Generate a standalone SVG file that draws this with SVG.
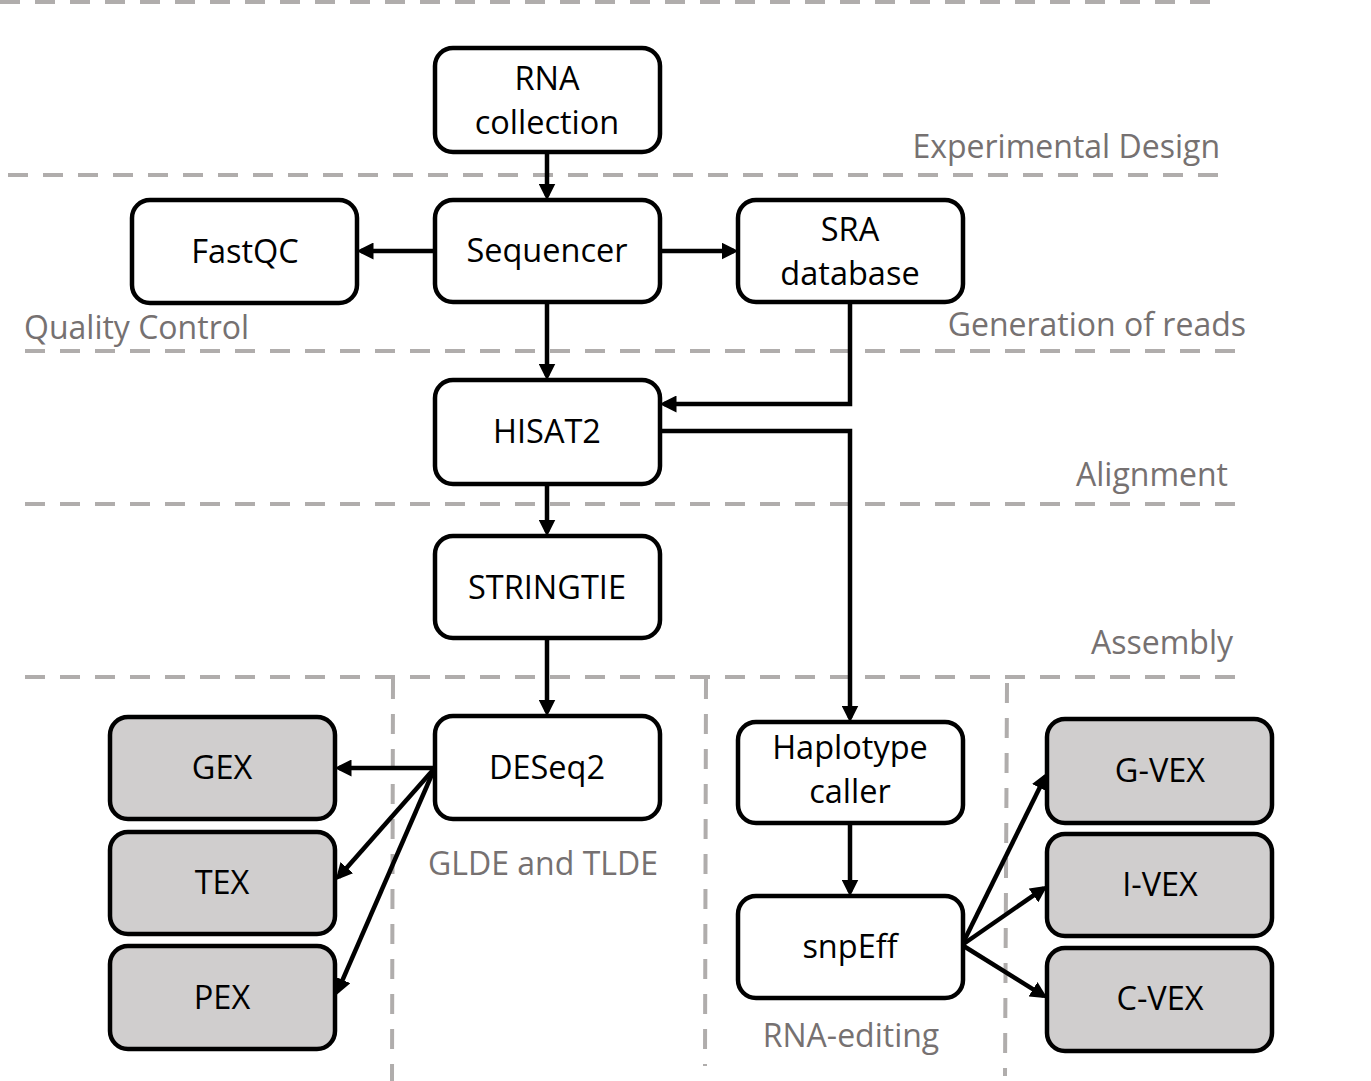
<svg xmlns="http://www.w3.org/2000/svg" width="1371" height="1081" viewBox="0 0 1371 1081">
<defs>
<style>
.bg{fill:#ffffff}
.dash{stroke:#b0adac;stroke-width:4;stroke-dasharray:20 15;fill:none}
.box{fill:#ffffff;stroke:#000;stroke-width:4.5}
.out{fill:#d0cece;stroke:#000;stroke-width:4.5}
.t{font-family:"Open Sans","Liberation Sans",sans-serif;font-size:32.5px;fill:#000;text-anchor:middle}
.lab{font-family:"Open Sans","Liberation Sans",sans-serif;font-size:32px;fill:#767171}
.c{stroke:#000;stroke-width:4.5;fill:none;marker-end:url(#ah)}
</style>
<marker id="ah" markerUnits="userSpaceOnUse" markerWidth="17" markerHeight="17" refX="12.5" refY="8.5" orient="auto" viewBox="0 0 17 17">
<path d="M0,0 L17,8.5 L0,17 z" fill="#000"/>
</marker>
</defs>
<rect class="bg" x="0" y="0" width="1371" height="1081"/>
<g id="guides">
<line class="dash" x1="0" y1="2" x2="1222" y2="2"/>
<line class="dash" x1="8" y1="175" x2="1222" y2="175"/>
<line class="dash" x1="25" y1="351" x2="1237" y2="351"/>
<line class="dash" x1="25" y1="504" x2="1237" y2="504"/>
<line class="dash" x1="25" y1="677" x2="1237" y2="677"/>
<line class="dash" x1="393" y1="679" x2="392" y2="1081"/>
<line class="dash" x1="706" y1="679" x2="705" y2="1066"/>
<line class="dash" x1="1007" y1="683" x2="1005" y2="1076"/>
</g>
<g id="labels">
<text class="lab" x="1220" y="158" text-anchor="end">Experimental Design</text>
<text class="lab" x="24" y="339">Quality Control</text>
<text class="lab" x="1246" y="336" text-anchor="end">Generation of reads</text>
<text class="lab" x="1228" y="486" text-anchor="end">Alignment</text>
<text class="lab" x="1233" y="654" text-anchor="end">Assembly</text>
<text class="lab" x="543" y="875" text-anchor="middle">GLDE and TLDE</text>
<text class="lab" x="851" y="1047" text-anchor="middle">RNA-editing</text>
</g>
<g id="connectors">
<line class="c" x1="547" y1="152" x2="547" y2="196"/>
<line class="c" x1="435" y1="251" x2="361" y2="251"/>
<line class="c" x1="660" y1="251" x2="734" y2="251"/>
<line class="c" x1="547" y1="302" x2="547" y2="376"/>
<polyline class="c" points="850,302 850,404 664,404"/>
<polyline class="c" points="660,431 850,431 850,718"/>
<line class="c" x1="547" y1="484" x2="547" y2="532"/>
<line class="c" x1="547" y1="638" x2="547" y2="712"/>
<line class="c" x1="435" y1="768" x2="339" y2="768"/>
<line class="c" x1="433" y1="770" x2="338.6" y2="877"/>
<line class="c" x1="433" y1="772" x2="337.6" y2="991.3"/>
<line class="c" x1="850" y1="823" x2="850" y2="892"/>
<line class="c" x1="962" y1="945" x2="1045.2" y2="776.6"/>
<line class="c" x1="962" y1="945" x2="1043.7" y2="888.3"/>
<line class="c" x1="962" y1="945" x2="1043.6" y2="995.9"/>
</g>
<g id="n-rna"><rect class="box" x="435" y="48" width="225" height="104" rx="18"/><text class="t" x="547" y="90">RNA</text><text class="t" x="547" y="134">collection</text></g>
<g id="n-sequencer"><rect class="box" x="435" y="200" width="225" height="102" rx="18"/><text class="t" x="547" y="262">Sequencer</text></g>
<g id="n-fastqc"><rect class="box" x="132" y="200" width="225" height="103" rx="18"/><text class="t" x="245" y="263">FastQC</text></g>
<g id="n-sra"><rect class="box" x="738" y="200" width="225" height="102" rx="18"/><text class="t" x="850" y="241">SRA</text><text class="t" x="850" y="285">database</text></g>
<g id="n-hisat2"><rect class="box" x="435" y="380" width="225" height="104" rx="18"/><text class="t" x="547" y="443">HISAT2</text></g>
<g id="n-stringtie"><rect class="box" x="435" y="536" width="225" height="102" rx="18"/><text class="t" x="547" y="599">STRINGTIE</text></g>
<g id="n-deseq2"><rect class="box" x="435" y="716" width="225" height="103" rx="18"/><text class="t" x="547" y="779">DESeq2</text></g>
<g id="n-haplotype"><rect class="box" x="738" y="722" width="225" height="101" rx="18"/><text class="t" x="850" y="759">Haplotype</text><text class="t" x="850" y="803">caller</text></g>
<g id="n-snpeff"><rect class="box" x="738" y="896" width="225" height="102" rx="18"/><text class="t" x="850" y="958">snpEff</text></g>
<g id="n-gex"><rect class="out" x="110" y="717" width="225" height="102" rx="18"/><text class="t" x="222" y="779">GEX</text></g>
<g id="n-tex"><rect class="out" x="110" y="832" width="225" height="102" rx="18"/><text class="t" x="222" y="894">TEX</text></g>
<g id="n-pex"><rect class="out" x="110" y="946" width="225" height="103" rx="18"/><text class="t" x="222" y="1009">PEX</text></g>
<g id="n-gvex"><rect class="out" x="1047" y="719" width="225" height="104" rx="18"/><text class="t" x="1160" y="782">G-VEX</text></g>
<g id="n-ivex"><rect class="out" x="1047" y="834" width="225" height="102" rx="18"/><text class="t" x="1160" y="896">I-VEX</text></g>
<g id="n-cvex"><rect class="out" x="1047" y="948" width="225" height="103" rx="18"/><text class="t" x="1160" y="1010">C-VEX</text></g>
</svg>
